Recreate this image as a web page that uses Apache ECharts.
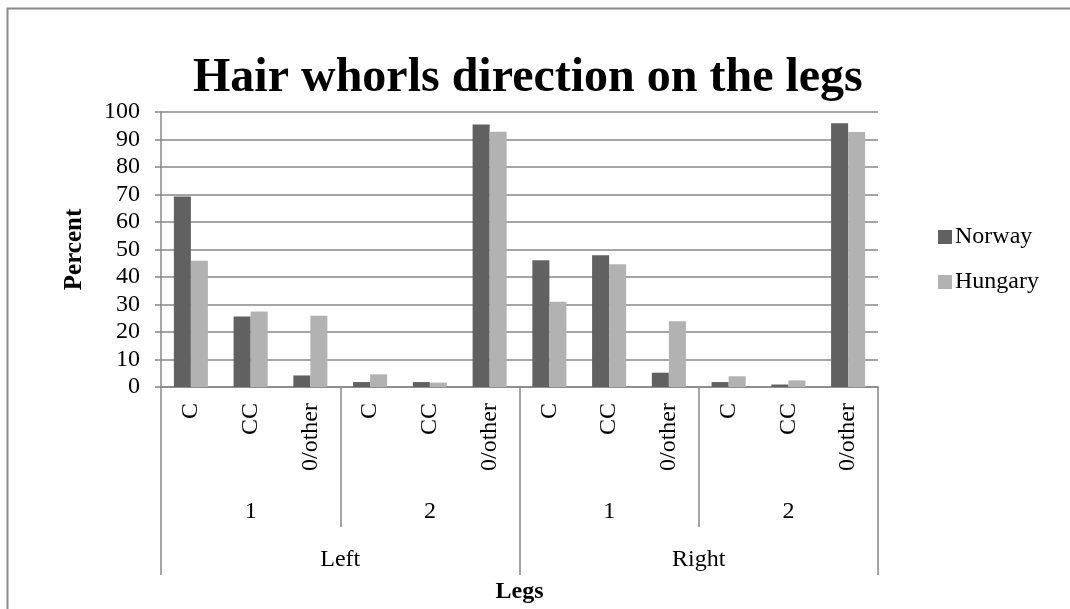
<!DOCTYPE html>
<html>
<head>
<meta charset="utf-8">
<script src="https://cdn.jsdelivr.net/npm/echarts@6/dist/echarts.min.js"></script>
<style>
  html, body { margin: 0; padding: 0; background: #fff; }
  #chart { width: 1070px; height: 609px; }
</style>
</head>
<body>
<div id="chart"></div>
<script>
// categories, three levels
const whorls = ['C', 'CC', '0/other', 'C', 'CC', '0/other', 'C', 'CC', '0/other', 'C', 'CC', '0/other']
const whorlNo = ['1', '2', '1', '2']
const legSide = ['Left', 'Right']

// percent values
const norway = [69.3, 25.6, 4.2, 1.8, 1.8, 95.5, 46.1, 47.9, 5.2, 1.8, 0.9, 95.9]
const hungary = [45.9, 27.5, 25.9, 4.6, 1.6, 92.8, 31.0, 44.6, 23.9, 3.9, 2.4, 92.7]

const yTicks = { min: 0, max: 100, step: 10 }

const font = 'Liberation Serif, Times New Roman, serif'
const lineGray = '#878787'

const chart = echarts.init(document.getElementById('chart'))

const option = {
	animation: false,
	backgroundColor: '#fff',
	textStyle: { fontFamily: font, color: '#000' },
	title: {
		text: 'Hair whorls direction on the legs',
		left: 188,
		top: 50,
		textStyle: { fontFamily: font, fontSize: 48, fontWeight: 'bold', color: '#000' },
	},
	legend: {
		orient: 'vertical',
		left: 933,
		top: 220,
		itemWidth: 14,
		itemHeight: 14,
		itemGap: 21,
		icon: 'rect',
		textStyle: { fontFamily: font, fontSize: 24, color: '#000', padding: [0, 0, 0, -2] },
		data: ['Norway', 'Hungary'],
	},
	grid: { left: 161, right: 192, top: 112, bottom: 222 },
	xAxis: [
		{
			type: 'category',
			data: whorls,
			axisLine: { lineStyle: { color: lineGray, width: 1.5 } },
			axisTick: { show: false },
			axisLabel: { rotate: 90, interval: 0, margin: 16, fontSize: 24, fontFamily: font, color: '#000' },
		},
		{
			type: 'category',
			position: 'bottom',
			data: whorlNo,
			axisLine: { show: false },
			axisTick: { show: true, length: 140, lineStyle: { color: lineGray, width: 1.5 } },
			axisLabel: { interval: 0, margin: 113, fontSize: 24, fontFamily: font, color: '#000' },
		},
		{
			type: 'category',
			position: 'bottom',
			data: legSide,
			axisLine: { show: false },
			axisTick: { show: true, length: 188, lineStyle: { color: lineGray, width: 1.5 } },
			axisLabel: { interval: 0, margin: 161, fontSize: 24, fontFamily: font, color: '#000' },
			name: 'Legs',
			nameLocation: 'middle',
			nameGap: 193,
			nameTextStyle: { fontFamily: font, fontSize: 24, fontWeight: 'bold', color: '#000' },
		},
	],
	yAxis: {
		type: 'value',
		min: yTicks.min,
		max: yTicks.max,
		interval: yTicks.step,
		name: 'Percent',
		nameLocation: 'middle',
		nameGap: 74,
		nameTextStyle: { fontFamily: font, fontSize: 25, fontWeight: 'bold', color: '#000' },
		axisLine: { show: true, lineStyle: { color: lineGray, width: 1.5 } },
		axisTick: { show: true, length: 6, lineStyle: { color: lineGray, width: 1.5 } },
		axisLabel: { margin: 21, fontSize: 24, fontFamily: font, color: '#000' },
		splitLine: { lineStyle: { color: lineGray, width: 1.5 } },
	},
	series: [
		{
			name: 'Norway',
			type: 'bar',
			xAxisIndex: 0,
			data: norway,
			itemStyle: { color: '#616161' },
			barGap: '0%',
			barCategoryGap: '43%',
		},
		{
			name: 'Hungary',
			type: 'bar',
			xAxisIndex: 0,
			data: hungary,
			itemStyle: { color: '#b2b2b2' },
		},
	],
	graphic: [
		{
			type: 'rect',
			silent: true,
			shape: { x: 7.5, y: 8.5, width: 1300, height: 900 },
			style: { fill: 'none', stroke: '#8a8a8a', lineWidth: 2 },
		},
	],
}

chart.setOption(option)
</script>
</body>
</html>
